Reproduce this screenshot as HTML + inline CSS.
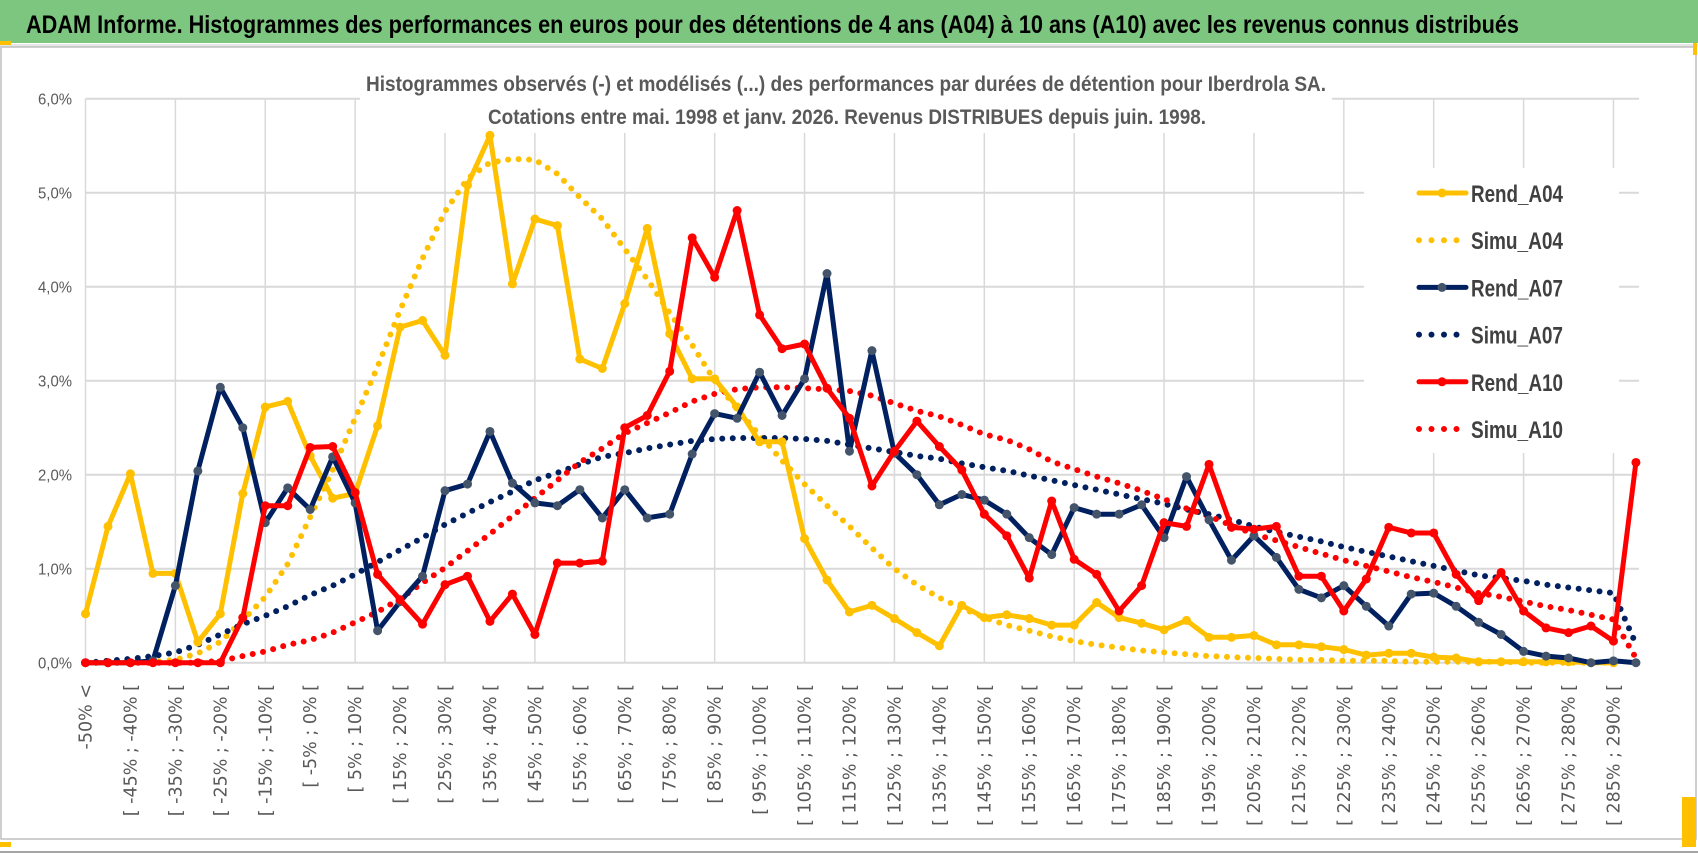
<!DOCTYPE html>
<html><head><meta charset="utf-8"><style>
html,body{margin:0;padding:0;background:#fff;}
svg{display:block;}
text{font-family:"Liberation Sans Narrow","Liberation Sans",sans-serif;}
</style></head><body>
<svg id="chart" width="1698" height="854" viewBox="0 0 1698 854" xmlns="http://www.w3.org/2000/svg">
<rect x="0" y="0" width="1698" height="43" fill="#7DC67F"/>
<text x="26" y="33" font-size="25" font-weight="bold" fill="#000" textLength="1493" lengthAdjust="spacingAndGlyphs">ADAM Informe. Histogrammes des performances en euros pour des détentions de 4 ans (A04) à 10 ans (A10) avec les revenus connus distribués</text>
<rect x="0" y="44" width="1698" height="3" fill="#e6e6e6"/>
<rect x="1" y="47" width="1695" height="792" fill="none" stroke="#bfbfbf" stroke-width="1.5"/>
<line x1="0" y1="852" x2="1698" y2="852" stroke="#a6a6a6" stroke-width="2"/>
<rect x="0" y="41" width="11" height="4" fill="#FFC000"/>
<rect x="1693" y="43" width="4" height="12" fill="#FFC000"/>
<rect x="0" y="842" width="11" height="5" fill="#FFC000"/>
<rect x="1682" y="797" width="14" height="50" fill="#FFC000"/>
<g id="grid"></g>
<rect x="360" y="60" width="972" height="73" fill="#fff"/>
<rect x="1364" y="168" width="255" height="285" fill="#fff"/>
<text x="366" y="91" font-size="21" font-weight="bold" fill="#595959" textLength="960" lengthAdjust="spacingAndGlyphs">Histogrammes observés (-) et modélisés (...) des performances par durées de détention pour Iberdrola SA.</text>
<text x="488" y="124" font-size="21" font-weight="bold" fill="#595959" textLength="718" lengthAdjust="spacingAndGlyphs">Cotations entre mai. 1998 et janv. 2026. Revenus DISTRIBUES depuis juin. 1998.</text>
<g id="yaxis"></g>
<g id="xaxis"></g>
<g id="series"></g>
<g id="legend"></g>
</svg>
<script>
const yTicks = [0,1,2,3,4,5,6];
const yTickLabels = ["0,0%","1,0%","2,0%","3,0%","4,0%","5,0%","6,0%"];
const categories = ["-50% <"];
for (let k = 1; k < 70; k++) { const a = -55 + 5*k; categories.push("[ " + a + "% ; " + (a+5) + "% ["); }
const rendA04 = [0.52,1.45,2.01,0.95,0.95,0.22,0.52,1.8,2.72,2.78, 2.2,1.75,1.8,2.52,3.57,3.64,3.27,5.08,5.61,4.03, 4.72,4.65,3.23,3.13,3.82,4.62,3.5,3.02,3.02,2.72, 2.35,2.35,1.32,0.88,0.54,0.61,0.47,0.32,0.18,0.61, 0.48,0.51,0.47,0.4,0.4,0.64,0.48,0.42,0.35,0.45, 0.27,0.27,0.29,0.19,0.19,0.17,0.14,0.08,0.1,0.1, 0.06,0.05,0.01,0.01,0.01,0.01,0.01,0,0,null];
const simuA04 = [0,0,0,0.01,0.03,0.1,0.22,0.45,0.7,1.05, 1.55,2.05,2.6,3.15,3.75,4.3,4.8,5.15,5.32,5.36, 5.35,5.2,4.95,4.72,4.4,4.08,3.72,3.38,3.0,2.7, 2.42,2.15,1.9,1.67,1.45,1.22,1.0,0.83,0.69,0.58, 0.48,0.4,0.34,0.28,0.23,0.19,0.16,0.13,0.11,0.09, 0.07,0.06,0.05,0.04,0.03,0.03,0.02,0.02,0.02,0.01, 0.01,0.01,0.01,0.01,0,0,0,0,0,null];
const rendA07 = [0,0,0,0.02,0.82,2.04,2.93,2.5,1.49,1.86, 1.63,2.19,1.7,0.34,0.65,0.92,1.83,1.9,2.46,1.91, 1.7,1.67,1.84,1.54,1.84,1.54,1.58,2.22,2.65,2.6, 3.09,2.63,3.02,4.14,2.25,3.32,2.23,2.0,1.68,1.79, 1.73,1.58,1.33,1.15,1.65,1.58,1.58,1.68,1.33,1.98, 1.52,1.09,1.35,1.12,0.78,0.69,0.82,0.6,0.39,0.73, 0.74,0.6,0.43,0.3,0.12,0.07,0.05,0,0.02,0];
const simuA07 = [0,0.02,0.04,0.07,0.11,0.19,0.3,0.41,0.5,0.6, 0.72,0.82,0.94,1.07,1.2,1.33,1.47,1.59,1.71,1.82, 1.94,2.02,2.11,2.19,2.23,2.28,2.32,2.36,2.38,2.39, 2.39,2.39,2.38,2.36,2.32,2.28,2.24,2.2,2.17,2.12, 2.08,2.04,1.99,1.94,1.89,1.84,1.79,1.74,1.69,1.63, 1.58,1.52,1.45,1.39,1.34,1.29,1.23,1.18,1.13,1.08, 1.03,0.98,0.93,0.9,0.87,0.83,0.8,0.77,0.74,0.2];
const rendA10 = [0,0,0,0,0,0,0,0.48,1.67,1.67, 2.29,2.3,1.81,0.94,0.67,0.41,0.83,0.92,0.44,0.73, 0.3,1.06,1.06,1.08,2.5,2.63,3.1,4.52,4.1,4.81, 3.7,3.34,3.39,2.92,2.6,1.88,2.25,2.57,2.3,2.05, 1.58,1.35,0.9,1.72,1.1,0.94,0.55,0.82,1.49,1.45, 2.11,1.44,1.42,1.45,0.92,0.92,0.55,0.89,1.44,1.38, 1.38,0.94,0.66,0.96,0.55,0.37,0.32,0.39,0.23,2.13];
const simuA10 = [0,0,0,0,0,0,0.02,0.07,0.12,0.19, 0.24,0.32,0.43,0.54,0.68,0.85,1.01,1.19,1.37,1.56, 1.75,1.94,2.13,2.28,2.44,2.55,2.66,2.78,2.86,2.91, 2.93,2.93,2.92,2.91,2.89,2.84,2.76,2.68,2.62,2.53, 2.43,2.37,2.27,2.14,2.06,1.98,1.91,1.83,1.74,1.64, 1.56,1.46,1.37,1.3,1.23,1.16,1.09,1.03,0.97,0.91, 0.86,0.8,0.74,0.7,0.65,0.6,0.56,0.51,0.46,0.05];
const seriesNames = ["Rend_A04","Simu_A04","Rend_A07","Simu_A07","Rend_A10","Simu_A10"];

const NS = "http://www.w3.org/2000/svg";
const X0 = 85.5, DX = 22.47, Y0 = 662.7, DY = 94.0;
function xs(k){ return X0 + DX*k; }
function ys(v){ return Y0 - DY*v; }
function mk(tag, attrs, parent){ const e = document.createElementNS(NS, tag); for (const a in attrs) e.setAttribute(a, attrs[a]); parent.appendChild(e); return e; }

const grid = document.getElementById('grid');
for (let i = 0; i < yTicks.length; i++) {
  const l = mk('line', {x1: X0, x2: 1639, y1: ys(yTicks[i]), y2: ys(yTicks[i]), stroke: '#d9d9d9', 'stroke-width': 2}, grid);
  
  
}
for (let k = 0; k <= 69; k += 4) {
  const l = mk('line', {x1: xs(k), x2: xs(k), y1: ys(6), y2: Y0, stroke: '#d9d9d9', 'stroke-width': 1.5}, grid);
  
  
}
const yaxis = document.getElementById('yaxis');
for (let i = 0; i < yTicks.length; i++) {
  const t = mk('text', {x: 72, y: ys(yTicks[i]) + 6, 'text-anchor': 'end', 'font-size': 16, fill: '#595959', textLength: 34, lengthAdjust: 'spacingAndGlyphs'}, yaxis);
  t.textContent = yTickLabels[i];
  
  
}
const xaxis = document.getElementById('xaxis');
for (let k = 0; k < categories.length; k += 2) {
  const x = xs(k) + 6, y = 684;
  const t = mk('text', {x: x, y: y, 'text-anchor': 'end', 'font-size': 17.5, fill: '#595959', transform: 'rotate(-90 ' + x + ' ' + y + ')', style: 'font-family:"DejaVu Sans",sans-serif'}, xaxis);
  t.textContent = categories[k];
  
  
}
const sg = document.getElementById('series');
function pathFor(arr){ let d = ''; let started = false; for (let k = 0; k < arr.length; k++) { if (arr[k] === null) continue; d += (started ? 'L' : 'M') + xs(k).toFixed(1) + ' ' + ys(arr[k]).toFixed(1); started = true; } return d; }
function dotted(arr, color, name){
  const p = mk('path', {d: pathFor(arr), fill: 'none', stroke: color, 'stroke-width': 6, 'stroke-linecap': 'round', 'stroke-dasharray': '0 10.5'}, sg);
  
  
}
function solid(arr, color, mcolor, name){
  const p = mk('path', {d: pathFor(arr), fill: 'none', stroke: color, 'stroke-width': 5, 'stroke-linejoin': 'round'}, sg);
  
  
  for (let k = 0; k < arr.length; k++) {
    if (arr[k] === null) continue;
    const c = mk('circle', {cx: xs(k), cy: ys(arr[k]), r: 4.5, fill: mcolor}, sg);
    
    
  }
}
dotted(simuA04, '#FFC000', 'simu-a04-line');
dotted(simuA07, '#002060', 'simu-a07-line');
dotted(simuA10, '#FF0000', 'simu-a10-line');
solid(rendA04, '#FFC000', '#FFC000', 'rend-a04-line');
solid(rendA07, '#002060', '#44546A', 'rend-a07-line');
solid(rendA10, '#FF0000', '#FF0000', 'rend-a10-line');

const lg = document.getElementById('legend');
const lcolors = ['#FFC000','#FFC000','#002060','#002060','#FF0000','#FF0000'];
const lmark = ['#FFC000','#FFC000','#44546A','#44546A','#FF0000','#FF0000'];
for (let i = 0; i < seriesNames.length; i++) {
  const cy = 193 + i*47.2;
  const g = mk('g', {}, lg);
  
  
  if (i % 2 === 0) {
    mk('line', {x1: 1419, x2: 1466, y1: cy, y2: cy, stroke: lcolors[i], 'stroke-width': 5, 'stroke-linecap': 'round'}, g);
    mk('circle', {cx: 1442, cy: cy, r: 4.5, fill: lmark[i]}, g);
  } else {
    mk('line', {x1: 1419, x2: 1462, y1: cy, y2: cy, stroke: lcolors[i], 'stroke-width': 6, 'stroke-linecap': 'round', 'stroke-dasharray': '0 12.5'}, g);
  }
  const t = mk('text', {x: 1471, y: cy + 9, 'font-size': 24, 'font-weight': 'bold', fill: '#404040', textLength: 92, lengthAdjust: 'spacingAndGlyphs'}, g);
  t.textContent = seriesNames[i];
}
</script>
</body></html>
